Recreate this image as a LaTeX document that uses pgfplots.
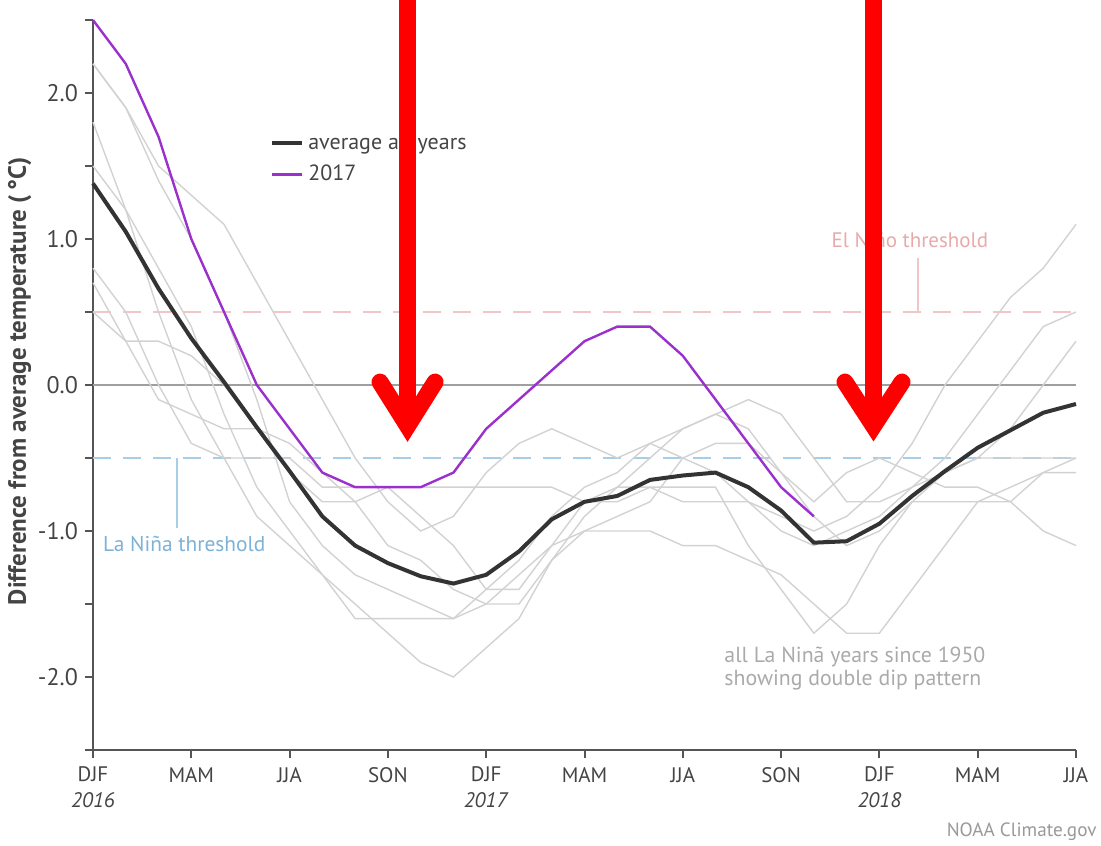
\documentclass[border=0pt]{standalone}
\usepackage{pgfplots}
\pgfplotsset{compat=1.18}
\usepackage{pgfplotstable}
\usepackage{fontspec}
\setmainfont{PT Sans}
\definecolor{avgc}{HTML}{333333}
\definecolor{purp}{HTML}{9B30CC}
\definecolor{lgray}{HTML}{D2D2D2}
\definecolor{pinkd}{HTML}{F2C6C6}
\definecolor{pinkt}{HTML}{E9A9A9}
\definecolor{blued}{HTML}{A8CDE6}
\definecolor{bluet}{HTML}{7DB1D6}
\definecolor{axc}{HTML}{555555}
\definecolor{txt}{HTML}{444444}
\definecolor{notec}{HTML}{AAAAAA}

\pgfplotstableread{
i  ya   yb   yc   yd   ye   yf   yg   avg
0  0.8  0.5  1.8  2.2  2.2  0.7  1.5  1.38
1  0.5  0.3  1.2  1.9  1.9  0.3  1.2  1.05
2  0.0  0.3  0.5  1.5  1.4  -0.1 0.8  0.66
3  -0.4 0.2  -0.1 1.3  1.0  -0.2 0.4  0.32
4  -0.5 0.0  -0.5 1.1  0.5  -0.3 -0.2 0.02
5  -0.5 -0.3 -0.9 0.7  -0.1 -0.3 -0.7 -0.29
6  -0.5 -0.6 -1.1 0.3  -0.8 -0.4 -1.0 -0.59
7  -0.7 -0.8 -1.3 -0.1 -1.1 -0.6 -1.3 -0.90
8  -0.7 -0.8 -1.5 -0.5 -1.3 -0.8 -1.6 -1.10
9  -0.7 -0.7 -1.7 -0.8 -1.4 -1.1 -1.6 -1.22
10 -0.7 -0.9 -1.9 -1.0 -1.5 -1.2 -1.6 -1.31
11 -0.7 -1.1 -2.0 -0.9 -1.6 -1.4 -1.6 -1.36
12 -0.7 -1.4 -1.8 -0.6 -1.5 -1.5 -1.4 -1.30
13 -0.7 -1.4 -1.6 -0.4 -1.3 -1.5 -1.2 -1.14
14 -0.7 -1.1 -1.2 -0.3 -1.1 -1.2 -0.9 -0.92
15 -0.8 -0.8 -1.0 -0.4 -1.0 -0.9 -0.7 -0.80
16 -0.8 -0.7 -0.9 -0.5 -1.0 -0.7 -0.6 -0.76
17 -0.7 -0.7 -0.8 -0.4 -1.0 -0.5 -0.4 -0.65
18 -0.7 -0.8 -0.5 -0.3 -1.1 -0.3 -0.5 -0.62
19 -0.7 -0.8 -0.4 -0.2 -1.1 -0.2 -0.6 -0.60
20 -1.1 -0.8 -0.4 -0.3 -1.2 -0.1 -0.8 -0.70
21 -1.4 -0.9 -0.6 -0.6 -1.3 -0.2 -1.0 -0.86
22 -1.7 -1.0 -0.8 -0.9 -1.5 -0.5 -1.1 -1.08
23 -1.5 -0.9 -0.6 -1.1 -1.7 -0.8 -1.0 -1.07
24 -1.1 -0.7 -0.5 -1.0 -1.7 -0.8 -0.9 -0.95
25 -0.8 -0.4 -0.6 -0.8 -1.4 -0.7 -0.7 -0.76
26 -0.6 0.0  -0.7 -0.8 -1.1 -0.5 -0.6 -0.59
27 -0.5 0.3  -0.7 -0.8 -0.8 -0.2 -0.5 -0.43
28 -0.5 0.6  -0.8 -0.8 -0.7 0.1  -0.3 -0.31
29 -0.5 0.8  -1.0 -0.6 -0.6 0.4  0.0  -0.19
30 -0.5 1.1  -1.1 -0.5 -0.6 0.5  0.3  -0.13
}\ninodata

\pgfplotstableread{
i  v
0  2.5
1  2.2
2  1.7
3  1.0
4  0.5
5  0.0
6  -0.3
7  -0.6
8  -0.7
9  -0.7
10 -0.7
11 -0.6
12 -0.3
13 -0.1
14 0.1
15 0.3
16 0.4
17 0.4
18 0.2
19 -0.1
20 -0.4
21 -0.7
22 -0.9
}\yrseventeen

\begin{document}
\begin{tikzpicture}
\begin{axis}[
  name=ax,
  scale only axis,
  width=491.5pt, height=365pt,
  xmin=0, xmax=30, ymin=-2.5, ymax=2.5,
  clip=false,
  axis x line*=bottom, axis y line*=left,
  axis line style={axc, line width=1.1pt},
  tick style={axc, line width=1pt},
  tick align=outside,
  major tick length=4pt,
  xtick={0,3,...,30},
  xticklabels={{DJF\\\textit{2016}},MAM,JJA,SON,{DJF\\\textit{2017}},MAM,JJA,SON,{DJF\\\textit{2018}},MAM,JJA},
  xticklabel style={align=center, font=\fontsize{10.5}{13}\selectfont, text=txt, yshift=-1pt},
  ytick={-2.5,-2,...,2.5},
  yticklabels={,-2.0,,-1.0,,0.0,,1.0,,2.0,},
  yticklabel style={font=\fontsize{12}{13}\selectfont, text=txt},
  ylabel={Difference from average temperature (\,°C)},
  ylabel style={at={(axis description cs:-0.0745,0.505)}, anchor=center, font=\bfseries\fontsize{12.5}{14}\selectfont, text=txt},
  legend style={at={(axis description cs:0.18,0.85)}, anchor=north west, draw=none, fill=none,
    font=\fontsize{11}{12}\selectfont, text=txt, inner sep=0pt, row sep=2.5pt},
  legend cell align=left,
  legend image code/.code={\draw[#1] (0pt,0pt) -- (15pt,0pt);},
]
% reference lines
\addplot[forget plot, draw=gray!75, line width=1pt] coordinates {(0,0) (30,0)};
\addplot[forget plot, draw=pinkd, line width=1.2pt, dash pattern=on 9pt off 6pt] coordinates {(0,0.5) (30,0.5)};
\addplot[forget plot, draw=blued, line width=1.2pt, dash pattern=on 9pt off 6pt] coordinates {(0,-0.5) (30,-0.5)};
% gray La Nina years
\addplot[forget plot, lgray, line width=0.7pt] table[x=i,y=ya] {\ninodata};
\addplot[forget plot, lgray, line width=0.7pt] table[x=i,y=yb] {\ninodata};
\addplot[forget plot, lgray, line width=0.7pt] table[x=i,y=yc] {\ninodata};
\addplot[forget plot, lgray, line width=0.7pt] table[x=i,y=yd] {\ninodata};
\addplot[forget plot, lgray, line width=0.7pt] table[x=i,y=ye] {\ninodata};
\addplot[forget plot, lgray, line width=0.7pt] table[x=i,y=yf] {\ninodata};
\addplot[forget plot, lgray, line width=0.7pt] table[x=i,y=yg] {\ninodata};
% average and 2017
\addplot[avgc, line width=2pt] table[x=i,y=avg] {\ninodata};
\addlegendentry{average all years}
\addplot[purp, line width=1.2pt] table[x=i,y=v] {\yrseventeen};
\addlegendentry{2017}
% annotations
\draw[blued, line width=1pt] (axis cs:2.56,-0.5) -- (axis cs:2.56,-0.98);
\node[anchor=west, text=bluet, font=\fontsize{10.7}{12}\selectfont, inner sep=0pt] at (axis cs:0.3,-1.09) {La Niña threshold};
\draw[pinkd, line width=1pt] (axis cs:25.17,0.5) -- (axis cs:25.17,0.87);
\node[anchor=center, text=pinkt, font=\fontsize{10.5}{12}\selectfont, inner sep=0pt] at (axis cs:24.93,0.99) {El Niño threshold};
\node[anchor=north west, align=left, text=notec, font=\fontsize{10.9}{11.8}\selectfont, inner sep=0pt] at (axis cs:19.26,-1.79) {all La Ninã years since 1950\\showing double dip pattern};
\node[anchor=east, text=gray!80, font=\fontsize{9.6}{12}\selectfont, inner sep=0pt] at (axis cs:30.64,-3.06) {NOAA Climate.gov};
% arrow coordinates
\coordinate (a1t) at (axis cs:9.6,2.75);
\coordinate (a1v) at (axis cs:9.6,-0.28);
\coordinate (a1l) at (axis cs:8.76,0.02);
\coordinate (a1r) at (axis cs:10.44,0.02);
\coordinate (a2t) at (axis cs:23.82,2.75);
\coordinate (a2v) at (axis cs:23.82,-0.28);
\coordinate (a2l) at (axis cs:22.95,0.02);
\coordinate (a2r) at (axis cs:24.69,0.02);
\end{axis}
\draw[red, line width=8.5pt] (a1t) -- (a1v);
\draw[red, line width=8.5pt, line cap=round, line join=miter] (a1l) -- (a1v) -- (a1r);
\draw[red, line width=8.5pt] (a2t) -- (a2v);
\draw[red, line width=8.5pt, line cap=round, line join=miter] (a2l) -- (a2v) -- (a2r);
\pgfresetboundingbox
\path[use as bounding box] ([xshift=-46.5pt,yshift=-47.5pt]ax.south west) rectangle ([xshift=12.5pt,yshift=10pt]ax.north east);
\end{tikzpicture}
\end{document}
